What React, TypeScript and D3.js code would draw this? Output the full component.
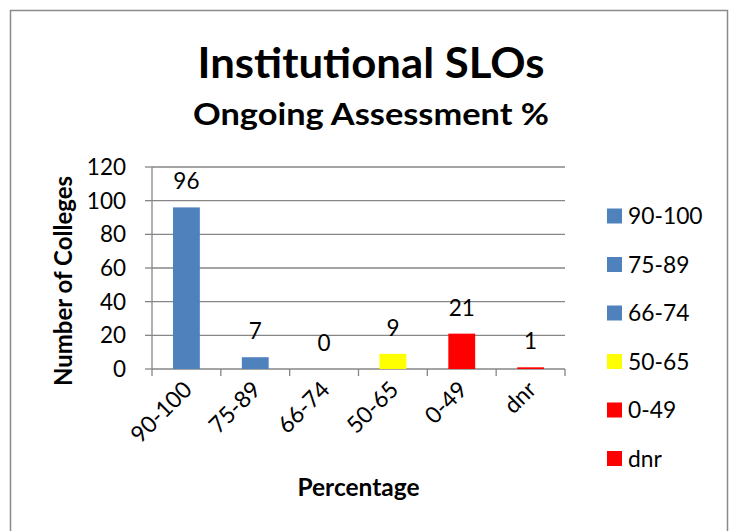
import React from "react";
import * as d3 from "d3";

const categories = ["90-100", "75-89", "66-74", "50-65", "0-49", "dnr"];
const values = [96, 7, 0, 9, 21, 1];
const barColors = ["#4F81BD", "#4F81BD", "#4F81BD", "#FFFF00", "#FF0000", "#FF0000"];
const yTicks = [0, 20, 40, 60, 80, 100, 120];

const FONT = "Lato, 'Open Sans', sans-serif";

export default function App() {
  const width = 736;
  const height = 531;
  const plot = { left: 152, right: 565, top: 167, bottom: 369 };

  const x = d3.scaleBand<string>()
    .domain(categories)
    .range([plot.left, plot.right])
    .paddingInner(0.61)
    .paddingOuter(0.305);
  const band = d3.scaleBand<string>().domain(categories).range([plot.left, plot.right]);
  const y = d3.scaleLinear().domain([0, 120]).range([plot.bottom, plot.top]);

  const legendY = d3.scalePoint<string>().domain(categories).range([216, 458.5]);

  return (
    <svg
      width={width}
      height={height}
      style={{ position: "absolute", left: 0, top: 0, background: "#fff" }}
      fontFamily={FONT}
    >
      <rect x={10.5} y={10.5} width={717} height={540} fill="#fff" stroke="#8a8a8a" strokeWidth={1.5} />

      <text x={371} y={78} textAnchor="middle" fontWeight="bold" fontSize={42} textLength={347} lengthAdjust="spacingAndGlyphs">
        Institutional SLOs
      </text>
      <text x={371} y={125} textAnchor="middle" fontWeight="bold" fontSize={30} textLength={356} lengthAdjust="spacingAndGlyphs">
        Ongoing Assessment %
      </text>

      {/* gridlines */}
      {yTicks.map(t => (
        <line key={t} x1={plot.left} x2={plot.right} y1={y(t)} y2={y(t)} stroke="#868686" strokeWidth={1.3} />
      ))}
      {/* y axis */}
      <line x1={plot.left} x2={plot.left} y1={plot.top} y2={plot.bottom} stroke="#868686" strokeWidth={1.3} />
      {yTicks.map(t => (
        <line key={"yt" + t} x1={plot.left - 7} x2={plot.left} y1={y(t)} y2={y(t)} stroke="#868686" strokeWidth={1.3} />
      ))}
      {yTicks.map(t => (
        <text key={"yl" + t} x={126} y={y(t) + 8} textAnchor="end" fontSize={22.5}>{t}</text>
      ))}
      {/* x ticks */}
      {[...categories.map(c => band(c) as number), plot.right].map((p, i) => (
        <line key={"xt" + i} x1={p} x2={p} y1={plot.bottom} y2={plot.bottom + 7} stroke="#868686" strokeWidth={1.3} />
      ))}

      {/* bars */}
      {categories.map((c, i) => (
        <rect
          key={c}
          x={x(c)}
          y={y(values[i])}
          width={x.bandwidth()}
          height={y(0) - y(values[i])}
          fill={barColors[i]}
        />
      ))}
      {categories.map((c, i) => (
        <text key={"v" + c} x={(band(c) as number) + band.bandwidth() / 2} y={y(values[i]) - 18} textAnchor="middle" fontSize={22.5}>
          {values[i]}
        </text>
      ))}

      {/* x labels */}
      {categories.map(c => {
        const cx = (band(c) as number) + band.bandwidth() / 2 + 7;
        const cy = plot.bottom + 22;
        return (
          <text key={"xl" + c} x={cx} y={cy} textAnchor="end" fontSize={23} transform={`rotate(-45 ${cx} ${cy})`}>
            {c}
          </text>
        );
      })}

      <text x={(plot.left + plot.right) / 2} y={496} textAnchor="middle" fontWeight="bold" fontSize={24.5}>Percentage</text>
      <text
        x={0}
        y={0}
        transform={`translate(72 ${281}) rotate(-90)`}
        textAnchor="middle"
        fontWeight="bold"
        fontSize={24}
      >
        Number of Colleges
      </text>

      {/* legend */}
      {categories.map((c, i) => (
        <g key={"lg" + c} transform={`translate(607 ${legendY(c)})`}>
          <rect x={0} y={-7.5} width={15} height={15} fill={barColors[i]} />
          <text x={21} y={8} fontSize={22.8}>{c}</text>
        </g>
      ))}
    </svg>
  );
}
